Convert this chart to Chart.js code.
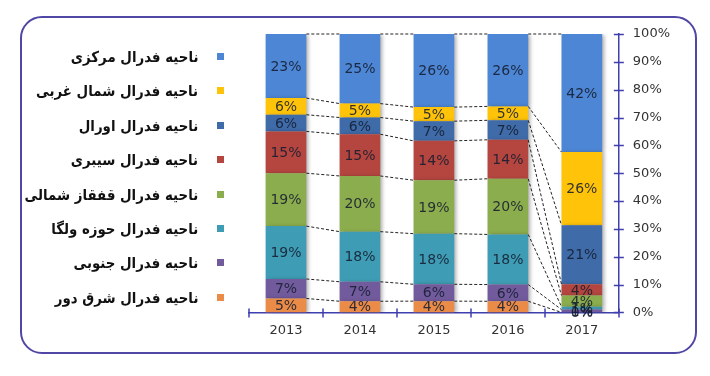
<!DOCTYPE html>
<html>
<head>
<meta charset="utf-8">
<script src="https://cdn.jsdelivr.net/npm/chart.js@4.4.0/dist/chart.umd.min.js"></script>
<style>
  body { margin: 0; width: 710px; height: 376px; background: #fff; overflow: hidden; position: relative; }
  #frame { position: absolute; left: 20px; top: 16px; width: 673px; height: 334px; border: 2px solid #5046a6; border-radius: 22px; }
  #chart { position: absolute; left: 0; top: 0; }
  .legend-item { position: absolute; right: 512px; direction: rtl;
    font: bold 15px "DejaVu Sans", sans-serif; color: #111; line-height: 20px; white-space: nowrap;
    transform: scaleX(0.89); transform-origin: right center; }
  .legend-box { position: absolute; width: 7px; height: 7px; left: 217px; }
</style>
</head>
<body>
<div id="frame"></div>
<canvas id="chart" width="710" height="376"></canvas>
<div id="legend"></div>
<script>
// years on the x axis
const years = ["2013", "2014", "2015", "2016", "2017"];

// share of each federal district (percent), bottom of the stack first
const farEast = [5, 4, 4, 4, 0];
const southern = [7, 7, 6, 6, 1];
const volga = [19, 18, 18, 18, 1];
const northCaucasus = [19, 20, 19, 20, 4];
const siberian = [15, 15, 14, 14, 4];
const ural = [6, 6, 7, 7, 21];
const northWestern = [6, 5, 5, 5, 26];
const central = [23, 25, 26, 26, 42];

const seriesNames = [
  "ناحیه فدرال شرق دور",
  "ناحیه فدرال جنوبی",
  "ناحیه فدرال حوزه ولگا",
  "ناحیه فدرال قفقاز شمالی",
  "ناحیه فدرال سیبری",
  "ناحیه فدرال اورال",
  "ناحیه فدرال شمال غربی",
  "ناحیه فدرال مرکزی",
];
const seriesData = [farEast, southern, volga, northCaucasus, siberian, ural, northWestern, central];
const seriesColors = ["#ea8b48", "#725b9d", "#3e9db4", "#8cad4d", "#b4463f", "#3f6ba9", "#ffc40a", "#4d86d4"];

const yTicks = [0, 10, 20, 30, 40, 50, 60, 70, 80, 90, 100];
const axisColor = "#3f3fae";

// 100% stacked: each column is scaled to its own total
const totals = years.map((y, i) => seriesData.reduce((s, arr) => s + arr[i], 0));

// legend, top item = top of the stack
const legend = document.getElementById("legend");
for (let i = seriesNames.length - 1, row = 0; i >= 0; i--, row++) {
  const cy = 57 + row * 34.4;
  const item = document.createElement("div");
  item.className = "legend-item";
  item.style.top = (cy - 10) + "px";
  item.textContent = seriesNames[i];
  legend.appendChild(item);
  const box = document.createElement("div");
  box.className = "legend-box";
  box.style.top = (cy - 4) + "px";
  box.style.background = seriesColors[i];
  legend.appendChild(box);
}

const decor = {
  id: "decor",
  beforeDatasetsDraw(chart) {
    const ctx = chart.ctx;
    ctx.save();
    ctx.shadowColor = "rgba(0,0,0,0.35)";
    ctx.shadowBlur = 4;
    ctx.shadowOffsetX = 2;
    ctx.shadowOffsetY = 1;
  },
  afterDatasetsDraw(chart) {
    const ctx = chart.ctx;
    ctx.restore();
    // dashed series lines between bars
    ctx.save();
    ctx.strokeStyle = "#222";
    ctx.lineWidth = 1;
    ctx.setLineDash([3, 2]);
    chart.data.datasets.forEach((ds, d) => {
      const bars = chart.getDatasetMeta(d).data;
      for (let i = 0; i < bars.length - 1; i++) {
        const a = bars[i], b = bars[i + 1];
        ctx.beginPath();
        ctx.moveTo(a.x + a.width / 2, a.y);
        ctx.lineTo(b.x - b.width / 2, b.y);
        ctx.stroke();
      }
    });
    ctx.restore();
    // value labels
    ctx.save();
    ctx.font = '14px "DejaVu Sans", sans-serif';
    ctx.fillStyle = "rgba(20,28,48,0.88)";
    ctx.textAlign = "center";
    ctx.textBaseline = "middle";
    chart.data.datasets.forEach((ds, d) => {
      chart.getDatasetMeta(d).data.forEach((el, i) => {
        ctx.fillText(seriesData[d][i] + "%", el.x, (el.y + el.base) / 2 + 1);
      });
    });
    ctx.restore();
  },
  afterDraw(chart) {
    const ctx = chart.ctx;
    const xs = chart.scales.x, ys = chart.scales.y;
    const area = chart.chartArea;
    ctx.save();
    ctx.strokeStyle = axisColor;
    ctx.lineWidth = 1.5;
    ctx.beginPath();
    yTicks.forEach(v => {
      const y = Math.round(ys.getPixelForValue(v)) + 0.5;
      ctx.moveTo(area.right - 5, y);
      ctx.lineTo(area.right + 5, y);
    });
    for (let i = 0; i <= years.length; i++) {
      const x = Math.round(xs.getPixelForValue(i - 0.5));
      ctx.moveTo(x, area.bottom - 4);
      ctx.lineTo(x, area.bottom + 5);
    }
    ctx.stroke();
    ctx.restore();
  }
};

new Chart(document.getElementById("chart"), {
  type: "bar",
  data: {
    labels: years,
    datasets: seriesData.map((data, i) => ({
      label: seriesNames[i],
      data: data.map((v, j) => v / totals[j] * 100),
      backgroundColor: seriesColors[i],
      borderWidth: 0,
      barPercentage: 0.55,
      categoryPercentage: 1,
    })),
  },
  options: {
    responsive: false,
    animation: false,
    layout: { padding: { left: 249, right: 26, top: 34, bottom: 28 } },
    plugins: {
      legend: { display: false },
      tooltip: { enabled: false },
    },
    scales: {
      x: {
        stacked: true,
        grid: { display: false, drawTicks: false },
        border: { display: true, color: axisColor, width: 1.5 },
        ticks: { color: "#333", font: { family: "DejaVu Sans", size: 13 }, padding: 10 },
      },
      y: {
        stacked: true,
        position: "right",
        min: 0,
        max: 100,
        afterBuildTicks: scale => { scale.ticks = yTicks.map(v => ({ value: v })); },
        grid: { display: false, drawTicks: false },
        border: { display: true, color: axisColor, width: 1.5 },
        ticks: { color: "#333", font: { family: "DejaVu Sans", size: 13 }, padding: 14, callback: v => v + "%" },
      },
    },
  },
  plugins: [decor],
});
</script>
</body>
</html>
